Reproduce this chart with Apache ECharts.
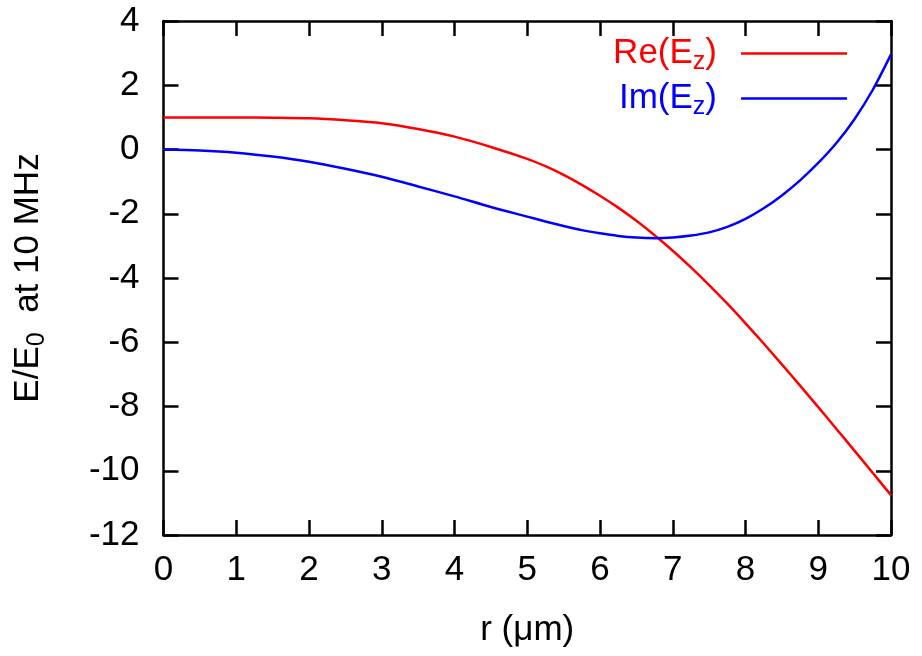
<!DOCTYPE html>
<html>
<head>
<meta charset="utf-8">
<script src="https://cdn.jsdelivr.net/npm/echarts@6/dist/echarts.min.js"></script>
<style>
html,body{margin:0;padding:0;background:#fff;}
#chart{width:922px;height:656px;}
</style>
</head>
<body>
<div id="chart"></div>
<script>
// radius r (μm)
var rValues = [0, 0.5, 1, 1.5, 2, 2.5, 3, 3.5, 4, 4.5, 5, 5.25, 5.5, 5.75, 6, 6.25, 6.5, 6.75, 7, 7.25, 7.5, 7.75, 8, 8.25, 8.5, 8.75, 9, 9.25, 9.5, 9.75, 10];
// Re(Ez) / E0
var reValues = [1.00, 1.00, 1.00, 0.99, 0.97, 0.91, 0.82, 0.64, 0.40, 0.08, -0.29, -0.52, -0.79, -1.10, -1.44, -1.81, -2.22, -2.67, -3.15, -3.67, -4.22, -4.80, -5.41, -6.04, -6.69, -7.35, -8.02, -8.70, -9.38, -10.07, -10.76];
// Im(Ez) / E0
var imValues = [0.00, -0.03, -0.10, -0.22, -0.38, -0.60, -0.85, -1.15, -1.46, -1.79, -2.09, -2.24, -2.38, -2.51, -2.61, -2.69, -2.74, -2.76, -2.74, -2.68, -2.58, -2.41, -2.16, -1.83, -1.43, -0.96, -0.42, 0.20, 0.95, 1.86, 2.96];
var xTicks = {min: 0, max: 10, interval: 1};
var yTicks = {min: -12, max: 4, interval: 2};
var seriesNames = ['Re', 'Im'];

var FONT = 'Liberation Sans';
var FS = 35;

function pairs(xs, ys) {
  return xs.map(function (x, i) { return [x, ys[i]]; });
}

var axisLineStyle = {color: '#000', width: 2.5};
function xAxisCfg(pos, showLabels) {
  return {
    type: 'value', position: pos, min: xTicks.min, max: xTicks.max, interval: xTicks.interval,
    axisLine: {show: true, onZero: false, lineStyle: axisLineStyle},
    axisTick: {show: true, inside: true, length: 15, lineStyle: {color: '#000', width: 2.5}},
    axisLabel: {show: showLabels, color: '#000', fontFamily: FONT, fontSize: FS, margin: 18},
    splitLine: {show: false},
    name: showLabels ? 'r (\u03bcm)' : '',
    nameLocation: 'middle', nameGap: 78,
    nameTextStyle: {color: '#000', fontFamily: FONT, fontSize: FS}
  };
}
function yAxisCfg(pos, showLabels) {
  return {
    type: 'value', position: pos, min: yTicks.min, max: yTicks.max, interval: yTicks.interval,
    axisLine: {show: true, onZero: false, lineStyle: axisLineStyle},
    axisTick: {show: true, inside: true, length: 15, lineStyle: {color: '#000', width: 2.5}},
    axisLabel: {show: showLabels, color: '#000', fontFamily: FONT, fontSize: FS, margin: 24},
    splitLine: {show: false},
    name: showLabels ? '{a|E/E}{s|0}{a|  at 10 MHz}' : '',
    nameLocation: 'middle', nameGap: 114,
    nameTextStyle: {
      color: '#000', fontFamily: FONT, fontSize: FS,
      rich: {
        a: {color: '#000', fontFamily: FONT, fontSize: FS},
        s: {color: '#000', fontFamily: FONT, fontSize: 25, padding: [18, 0, 0, 0]}
      }
    }
  };
}

var chart = echarts.init(document.getElementById('chart'), null, {renderer: 'canvas'});
chart.setOption({
  animation: false,
  backgroundColor: '#fff',
  grid: {left: 163.5, right: 31, top: 21, bottom: 121, containLabel: false},
  xAxis: [xAxisCfg('bottom', true), xAxisCfg('top', false)],
  yAxis: [yAxisCfg('left', true), yAxisCfg('right', false)],
  legend: {
    orient: 'vertical', right: 75, top: 36, align: 'right',
    itemWidth: 106, itemHeight: 2.5, itemGap: 6, icon: 'rect', padding: 0,
    data: [{name: seriesNames[0]}, {name: seriesNames[1]}],
    formatter: function (name) {
      return name === 'Re' ? '{r|Re(E}{rs|z}{r|)}{gap|}' : '{b|Im(E}{bs|z}{b|)}{gap|}';
    },
    textStyle: {
      fontFamily: FONT, fontSize: FS,
      rich: {
        r: {color: '#ff0000', fontFamily: FONT, fontSize: FS},
        rs: {color: '#ff0000', fontFamily: FONT, fontSize: 25, padding: [18, 0, 0, 0]},
        b: {color: '#0000ff', fontFamily: FONT, fontSize: FS},
        bs: {color: '#0000ff', fontFamily: FONT, fontSize: 25, padding: [18, 0, 0, 0]},
        gap: {width: 19}
      }
    }
  },
  series: [
    {
      name: seriesNames[0], type: 'line', data: pairs(rValues, reValues),
      smooth: 0.3, showSymbol: false, symbol: 'none',
      lineStyle: {color: '#ff0000', width: 2.5}, itemStyle: {color: '#ff0000'}
    },
    {
      name: seriesNames[1], type: 'line', data: pairs(rValues, imValues),
      smooth: 0.3, showSymbol: false, symbol: 'none',
      lineStyle: {color: '#0000ff', width: 2.5}, itemStyle: {color: '#0000ff'}
    }
  ]
});
</script>
</body>
</html>
